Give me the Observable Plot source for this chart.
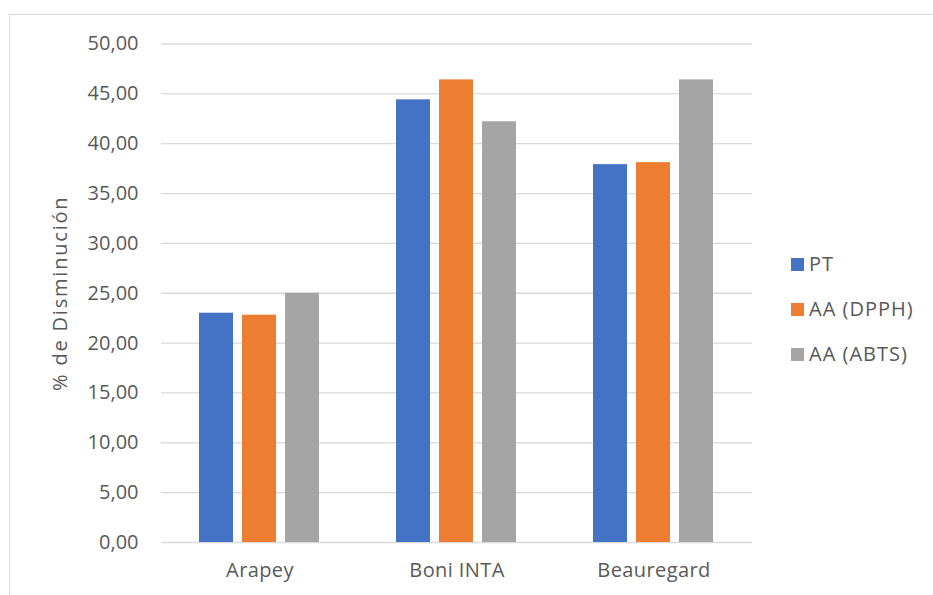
<!DOCTYPE html>
<html>
<head>
<meta charset="utf-8">
<script src="https://cdn.jsdelivr.net/npm/d3@7"></script>
<script src="https://cdn.jsdelivr.net/npm/@observablehq/plot@0.6"></script>
<style>
  html, body { margin: 0; padding: 0; background: #fff; }
  #wrap { position: relative; width: 933px; height: 595px; overflow: hidden; background: #fff; }
  #frame { position: absolute; left: 9px; top: 14px; width: 940px; height: 600px;
           border-left: 1px solid #d9d9d9; border-top: 1.5px solid #d9d9d9; box-sizing: border-box; }
  #chart { position: absolute; left: 0; top: 0; }
  #legend { position: absolute; left: 791px; top: 253px; }
  .lg-swatches-wrap { flex-direction: column !important; align-items: flex-start !important;
                      min-height: 0 !important; gap: 23px; margin: 0 !important; }
  .lg-swatch { margin: 0 !important; font-family: "Open Sans", sans-serif; font-size: 20px;
               letter-spacing: 1px; color: #595959; line-height: 22px; }
  .lg-swatch > svg { margin-right: 5px !important; }
  #chart g[aria-label="fx-axis tick label"] text { letter-spacing: 0.4px; }
  #chart g[aria-label="y-axis label"] text { letter-spacing: 1.8px; }
</style>
</head>
<body>
<div id="wrap">
  <div id="frame"></div>
  <div id="chart"></div>
  <div id="legend"></div>
</div>
<script>
// Sweet potato varieties and the three measured decreases (%)
const varieties = ["Arapey", "Boni INTA", "Beauregard"];
const series = ["PT", "AA (DPPH)", "AA (ABTS)"];
const ptValues = [23.0, 44.4, 37.9];
const dpphValues = [22.8, 46.4, 38.1];
const abtsValues = [25.0, 42.2, 46.4];
const yTicks = [0, 5, 10, 15, 20, 25, 30, 35, 40, 45, 50];
const seriesColors = ["#4472C4", "#ED7D31", "#A5A5A5"];

const valuesBySeries = [ptValues, dpphValues, abtsValues];
const rows = [];
varieties.forEach((v, i) => {
  series.forEach((s, j) => rows.push({variety: v, series: s, value: valuesBySeries[j][i]}));
});

const fmt = d => d.toFixed(2).replace(".", ",");

const chart = Plot.plot({
  width: 933,
  height: 595,
  marginLeft: 160,
  marginRight: 180,
  marginTop: 43.5,
  marginBottom: 53,
  style: {fontFamily: "Open Sans, sans-serif", fontSize: "20px", color: "#595959", background: "transparent"},
  fx: {domain: varieties, padding: 0, label: null},
  x: {domain: series, paddingInner: 0.207, paddingOuter: 0.873, axis: null},
  y: {domain: [0, 50]},
  color: {domain: series, range: seriesColors},
  marks: [
    Plot.ruleY(yTicks, {stroke: "#d9d9d9", strokeWidth: 1.3}),
    Plot.barY(rows, {fx: "variety", x: "series", y: "value", fill: "series"}),
    Plot.axisY({
      ticks: yTicks, tickSize: 0, tickPadding: 23, tickFormat: fmt,
      label: "% de Disminución", labelAnchor: "center", labelArrow: "none", labelOffset: 109
    }),
    Plot.axisFx({anchor: "bottom", tickSize: 0, tickPadding: 20, label: null})
  ]
});
document.getElementById("chart").appendChild(chart);

const legend = Plot.legend({
  color: {domain: series, range: seriesColors},
  legend: "swatches",
  swatchSize: 13,
  className: "lg"
});
document.getElementById("legend").appendChild(legend);
</script>
</body>
</html>
